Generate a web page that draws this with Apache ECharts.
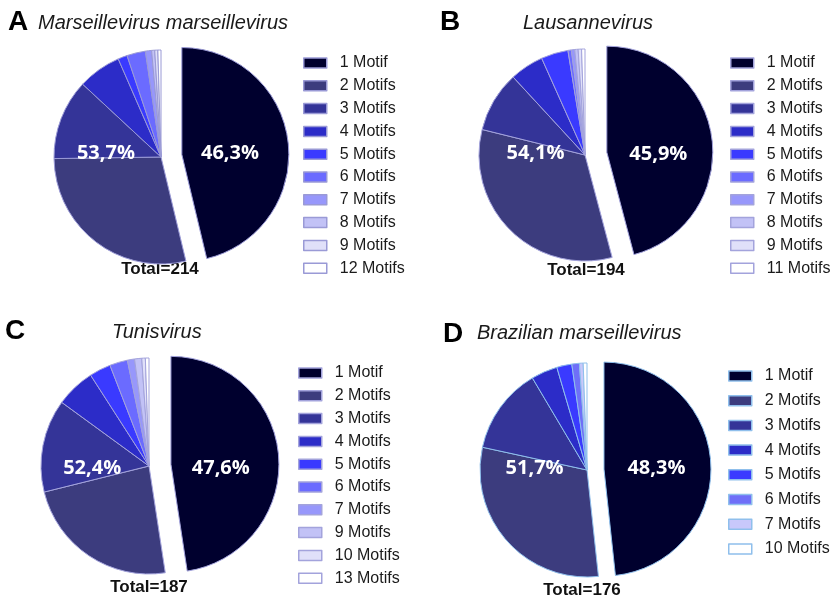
<!DOCTYPE html>
<html><head><meta charset="utf-8">
<script src="https://cdn.jsdelivr.net/npm/echarts/dist/echarts.min.js"></script>
<style>html,body{margin:0;padding:0;background:#fff}#c{width:837px;height:609px}</style>
</head><body><div id="c"></div>
<script>
// ---- data ----
const motifsA = ['1 Motif','2 Motifs','3 Motifs','4 Motifs','5 Motifs','6 Motifs','7 Motifs','8 Motifs','9 Motifs','12 Motifs'];
const countsA = [99, 61, 26, 14, 3, 6, 2, 1, 1, 1];
const motifsB = ['1 Motif','2 Motifs','3 Motifs','4 Motifs','5 Motifs','6 Motifs','7 Motifs','8 Motifs','9 Motifs','11 Motifs'];
const countsB = [89, 64, 18, 10, 8, 1, 1, 1, 1, 1];
const motifsC = ['1 Motif','2 Motifs','3 Motifs','4 Motifs','5 Motifs','6 Motifs','7 Motifs','9 Motifs','10 Motifs','13 Motifs'];
const countsC = [89, 44, 26, 11, 6, 5, 2, 2, 1, 1];
const motifsD = ['1 Motif','2 Motifs','3 Motifs','4 Motifs','5 Motifs','6 Motifs','7 Motifs','10 Motifs'];
const countsD = [85, 53, 23, 7, 4, 2, 1, 1];
const virusNames = ['Marseillevirus marseillevirus','Lausannevirus','Tunisvirus','Brazilian marseillevirus'];
const panelLetters = ['A','B','C','D'];

// ---- styles / layout ----
const paletteABC = ['#00002e','#3c3c7e','#343498','#2c2cc8','#3a3aff','#6b6bff','#9797fb','#c2c2f6','#e0e0f9','#ffffff'];
const paletteD = ['#00002e','#3c3c7e','#343498','#2c2cc8','#3a3aff','#6f6ff8','#c8c8fb','#ffffff'];
const layout = [
  {center:[161,157], r:107, off:21, border:'#9a9ad6', legLeft:303, legTop:55, legGap:6.8, letter:[8,22], title:[38,23], total:[160,269], oneOff:[-8,5], restOff:[1,-10], pal: paletteABC},
  {center:[585,155], r:106, off:22, border:'#a3a3dc', legLeft:730, legTop:55, legGap:6.8, letter:[440,22], title:[523,23], total:[586,270], oneOff:[-4,9], restOff:[6,-9], pal: paletteABC},
  {center:[149,466], r:108, off:22, border:'#a3a3dc', legLeft:298, legTop:365, legGap:6.8, letter:[5,331], title:[112,332], total:[149,587], oneOff:[-7,8], restOff:[0,-2], pal: paletteABC},
  {center:[587,470], r:107, off:17, border:'#8fbfec', legLeft:728, legTop:368, legGap:8.7, letter:[443,334], title:[477,333], total:[582,590], oneOff:[-4,2], restOff:[4,-5], pal: paletteD}
];
const allMotifs = [motifsA, motifsB, motifsC, motifsD];
const allCounts = [countsA, countsB, countsC, countsD];

const pct = (v, t) => (v / t * 100).toFixed(1).replace('.', ',') + '%';

const series = [], legends = [], graphics = [];
allMotifs.forEach((motifs, k) => {
  const counts = allCounts[k], L = layout[k], key = panelLetters[k];
  const total = counts.reduce((a, b) => a + b, 0);
  const rest = total - counts[0];
  series.push({
    type: 'pie', center: L.center, radius: L.r, startAngle: 90, clockwise: true,
    selectedMode: 'single', selectedOffset: L.off, animation: false,
    label: {show: false}, labelLine: {show: false}, emphasis: {disabled: true},
    itemStyle: {borderColor: L.border, borderWidth: 1},
    data: motifs.map((m, i) => ({name: key + '|' + m, value: counts[i], selected: i === 0,
      itemStyle: {color: L.pal[i]}}))
  });
  series.push({
    type: 'pie', center: L.center, radius: L.r, startAngle: 90, clockwise: true,
    selectedMode: 'single', selectedOffset: L.off, animation: false, silent: true, z: 5,
    avoidLabelOverlap: false, labelLine: {show: false}, emphasis: {disabled: true},
    itemStyle: {color: 'rgba(0,0,0,0)', borderWidth: 0},
    label: {show: true, position: 'inside', color: '#ffffff', fontFamily: 'Open Sans', fontWeight: 'bold', fontSize: 20,
      formatter: p => pct(p.value, total)},
    data: [
      {name: key + '#one', value: counts[0], selected: true, label: {offset: L.oneOff}, select: {label: {offset: L.oneOff}}},
      {name: key + '#rest', value: rest, label: {offset: L.restOff}}
    ]
  });
  legends.push({
    orient: 'vertical', left: L.legLeft, top: L.legTop, padding: 0, itemGap: L.legGap,
    itemWidth: 23, itemHeight: 10, icon: 'rect', selectedMode: false,
    data: motifs.map(m => key + '|' + m),
    formatter: n => n.split('|')[1],
    itemStyle: {borderColor: L.border, borderWidth: 1.5},
    textStyle: {fontFamily: 'Liberation Sans', fontSize: 16, color: '#1a1a1a', lineHeight: 16, padding: [0, 0, 0, 8]}
  });
  graphics.push({type: 'text', x: L.letter[0], y: L.letter[1],
    style: {text: key, font: 'bold 28px "Liberation Sans"', fill: '#000', verticalAlign: 'middle', align: 'left'}});
  graphics.push({type: 'text', x: L.title[0], y: L.title[1],
    style: {text: virusNames[k], font: 'italic 20px "Liberation Sans"', fill: '#1a1a1a', verticalAlign: 'middle', align: 'left'}});
  graphics.push({type: 'text', x: L.total[0], y: L.total[1],
    style: {text: 'Total=' + total, font: 'bold 17px "Liberation Sans"', fill: '#111', verticalAlign: 'middle', align: 'center'}});
});

const chart = echarts.init(document.getElementById('c'), null, {renderer: 'canvas'});
chart.setOption({
  animation: false,
  backgroundColor: '#ffffff',
  tooltip: {show: false},
  legend: legends,
  series: series,
  graphic: {elements: graphics}
});
</script>
</body></html>
